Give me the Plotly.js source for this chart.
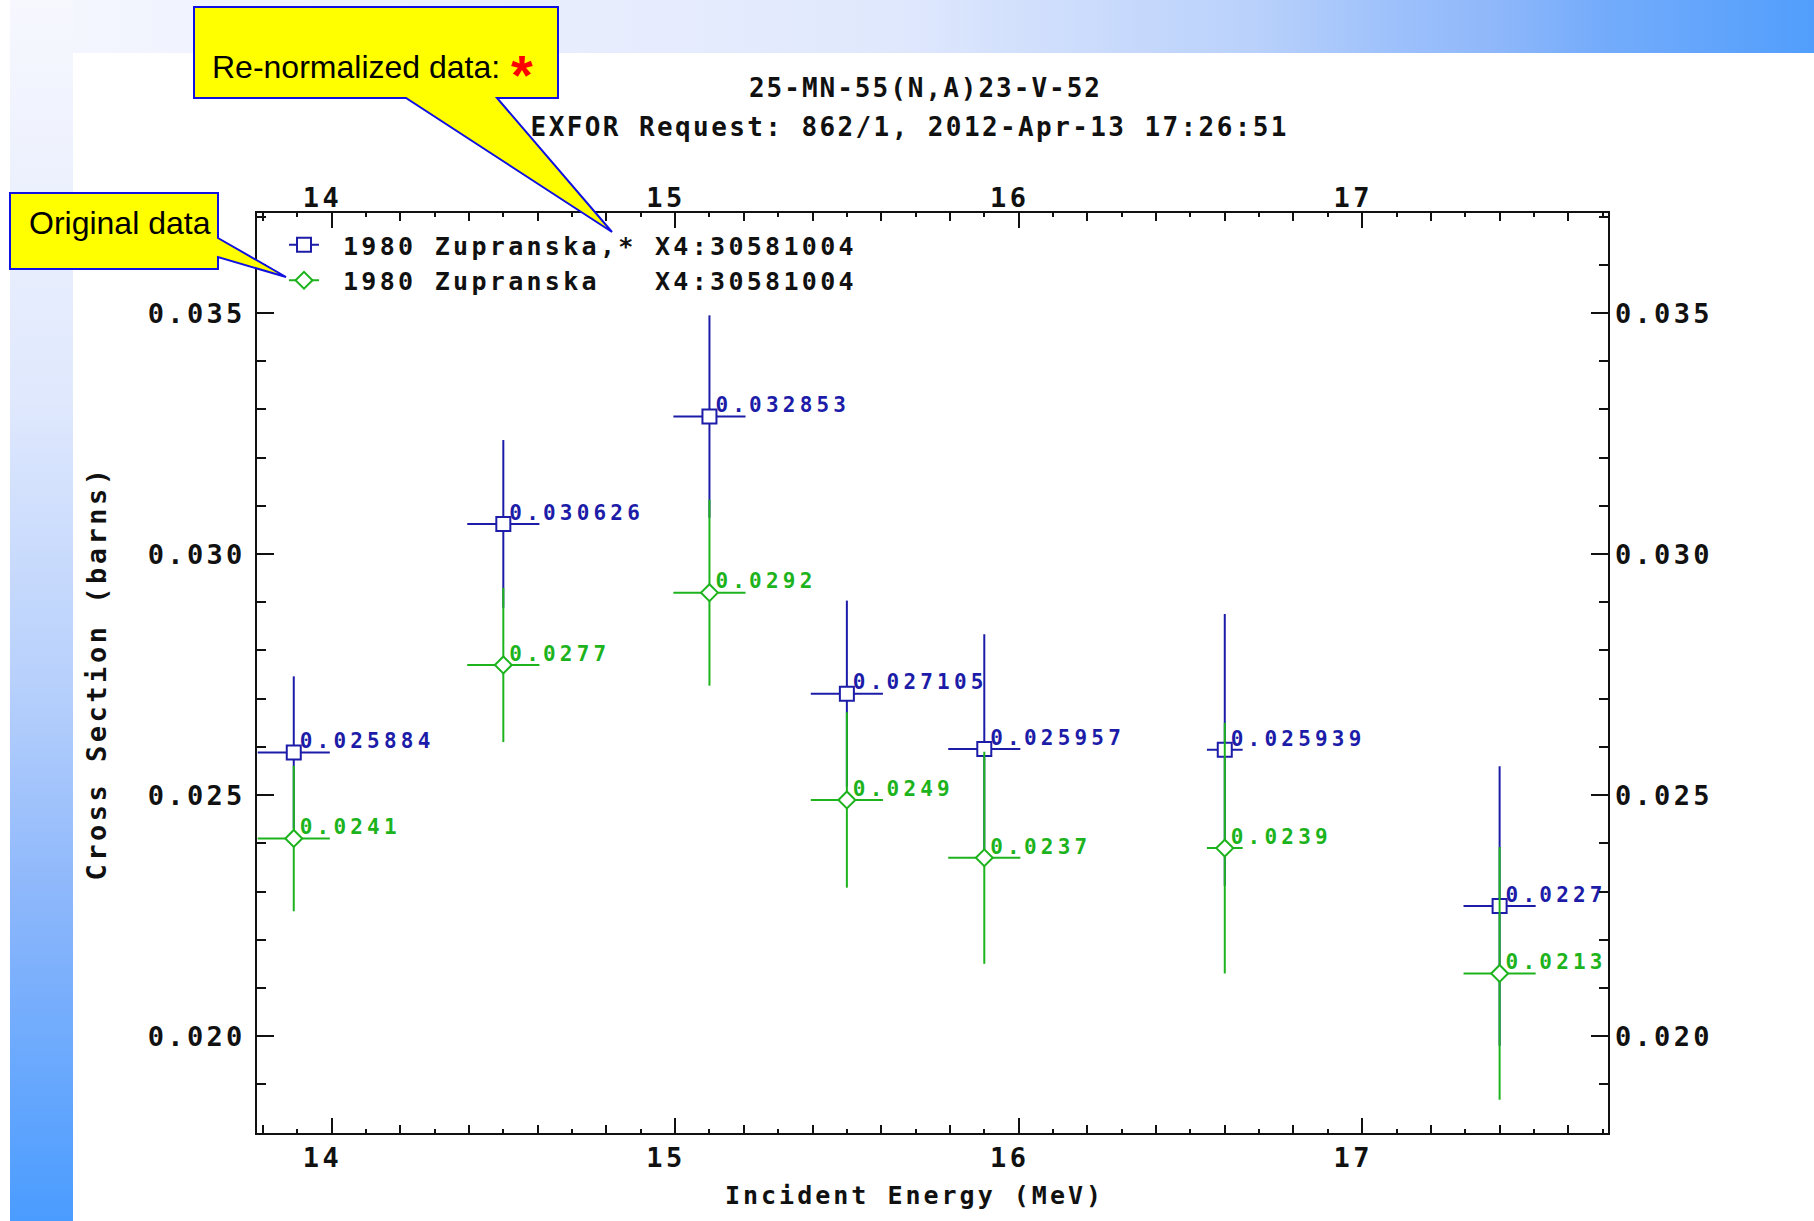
<!DOCTYPE html>
<html>
<head>
<meta charset="utf-8">
<script src="https://cdn.plot.ly/plotly-3.0.1.min.js"></script>
<style>
html,body{margin:0;padding:0;background:#fff;}
#wrap{position:relative;width:1814px;height:1221px;overflow:hidden;background:#fff;}
#topband{position:absolute;left:10px;top:0;width:1804px;height:53px;
  background:linear-gradient(to right,#f5f7fe 0%,#e0e8fd 49%,#b9d1fb 69%,#9cc0fb 77%,#90b8fa 82%,#75acfb 88%,#519efc 100%);}
#leftband{position:absolute;left:10px;top:0;width:63px;height:1221px;
  background:linear-gradient(to bottom,#f7f8fe 0%,#dfe8fd 33%,#b5cffc 57%,#8bb6fb 74%,#4a9cff 100%);}
#chart{position:absolute;left:0;top:0;width:1814px;height:1221px;}
.xtick text,.x2tick text{letter-spacing:3.5px;}
.ytick text,.y2tick text{letter-spacing:3.3px;}
.gtitle{letter-spacing:2px;}
.annotation[data-index="0"] text{letter-spacing:2.4px;}
.legendtext{letter-spacing:3.3px;transform:translateX(19px);}
g.legend g.scrollbox{clip-path:none !important;}
.textpoint text{letter-spacing:4.2px;transform:translate(6px,1px);}
.xtitle{letter-spacing:3px;transform:translateX(-18px);}
.ytitle{letter-spacing:3.5px;}
</style>
</head>
<body>
<div id="wrap">
  <div id="topband"></div>
  <div id="leftband"></div>
  <div id="chart"></div>
</div>
<script>
// ---- data ----
const energy      = [13.89, 14.50, 15.10, 15.50, 15.90, 16.60, 17.40];
const energyErr   = [0.105, 0.105, 0.105, 0.105, 0.105, 0.052, 0.105];
const renormXS    = [0.025884, 0.030626, 0.032853, 0.027105, 0.025957, 0.025939, 0.0227];
const renormErr   = [0.00158, 0.00174, 0.0021, 0.00193, 0.00238, 0.00282, 0.0029];
const origXS      = [0.0241, 0.0277, 0.0292, 0.0249, 0.0237, 0.0239, 0.0213];
const origErr     = [0.00151, 0.0016, 0.00193, 0.00182, 0.0022, 0.0026, 0.00262];
const seriesNames = ['1980 Zupranska,* X4:30581004', '1980 Zupranska\u00a0\u00a0\u00a0X4:30581004'];
const xTickVals   = [14, 15, 16, 17];
const yTickVals   = [0.020, 0.025, 0.030, 0.035];
const titleLines  = ['25-MN-55(N,A)23-V-52', 'EXFOR Request: 862/1, 2012-Apr-13 17:26:51'];
const xTitle = 'Incident Energy (MeV)';
const yTitle = 'Cross Section (barns)';

// ---- styling ----
const BLUE = '#1c1ca8', GREEN = '#1cb31c', INK = '#111111';
const MONO = 'DejaVu Sans Mono', SANS = 'Liberation Sans, Arial, sans-serif';
const XR = [13.783, 17.7155], YR = [0.01799, 0.037076];
const L = 257, R = 1608, T = 213, B = 1133, W = 1814, H = 1221;
const PX = p => (p - L) / (R - L);
const PY = p => (B - p) / (B - T);
const pth = pts => 'M' + pts.map(p => PX(p[0]).toFixed(5) + ',' + PY(p[1]).toFixed(5)).join(' L') + ' Z';

const monoB = (size, color) => ({family: MONO, size: size, color: color || INK, weight: 'bold'});

function dataTrace(y, err, color, symbol, size) {
  return {
    x: energy, y: y, type: 'scatter', mode: 'markers', showlegend: false, hoverinfo: 'skip',
    marker: {symbol: symbol, size: size, color: '#ffffff', line: {color: color, width: 2}},
    error_y: {type: 'data', array: err, visible: true, color: color, thickness: 2, width: 0},
    error_x: {type: 'data', array: energyErr, visible: true, color: color, thickness: 2, width: 0}
  };
}
function labelTrace(y, color) {
  return {
    x: energy, y: y, type: 'scatter', mode: 'text', showlegend: false, hoverinfo: 'skip',
    text: y.map(v => String(v)), textposition: 'top right', cliponaxis: true,
    textfont: monoB(21, color)
  };
}
function legendTrace(name, color, symbol, size) {
  return {
    x: [null], y: [null], type: 'scatter', mode: 'lines+markers', name: name, hoverinfo: 'skip',
    line: {color: color, width: 2},
    marker: {symbol: symbol, size: size, color: '#ffffff', line: {color: color, width: 2}}
  };
}
// empty carriers so that the mirrored label axes / extra tick axis get drawn
function axisCarrier(xa, ya) {
  return {x: [null], y: [null], type: 'scatter', mode: 'markers', xaxis: xa, yaxis: ya,
          showlegend: false, hoverinfo: 'skip'};
}

const traces = [
  dataTrace(renormXS, renormErr, BLUE, 'square', 14),
  dataTrace(origXS, origErr, GREEN, 'diamond', 13),
  labelTrace(renormXS, BLUE),
  labelTrace(origXS, GREEN),
  legendTrace(seriesNames[0], BLUE, 'square', 14),
  legendTrace(seriesNames[1], GREEN, 'diamond', 13),
  axisCarrier('x2', 'y2'),
  axisCarrier('x3', 'y')
];

const tickFont = monoB(27);
const layout = {
  width: W, height: H,
  margin: {l: L, r: W - R, t: T, b: H - B, pad: 0},
  paper_bgcolor: 'rgba(0,0,0,0)', plot_bgcolor: '#ffffff',
  hovermode: false,
  title: {text: titleLines[0], font: monoB(26), x: 925.5 / W, xanchor: 'center', y: 1 - 87.5 / H, yanchor: 'middle'},
  showlegend: true,
  legend: {x: PX(284), y: PY(222), xanchor: 'left', yanchor: 'top', bgcolor: 'rgba(0,0,0,0)',
           borderwidth: 0, font: monoB(25), tracegroupgap: 0, itemwidth: 30},
  xaxis: {
    range: XR, showline: true, linewidth: 2, linecolor: INK, mirror: 'ticks',
    ticks: 'inside', tickvals: xTickVals, ticklen: 15, tickwidth: 2, tickcolor: INK,
    tickfont: tickFont, ticklabelshift: -9, showgrid: false, zeroline: false,
    minor: {dtick: 0.1, tick0: 14, ticks: 'inside', ticklen: 4, tickwidth: 2, tickcolor: INK, showgrid: false},
    title: {text: xTitle, font: monoB(25), standoff: 14}
  },
  xaxis3: {
    overlaying: 'x', anchor: 'y', side: 'bottom', range: XR, showline: false, mirror: 'ticks',
    ticks: 'inside', tick0: 14, dtick: 0.2, ticklen: 8, tickwidth: 2, tickcolor: INK,
    showticklabels: false, showgrid: false, zeroline: false
  },
  xaxis2: {
    overlaying: 'x', anchor: 'y2', side: 'top', range: XR, showline: false, ticks: '',
    tickvals: xTickVals, tickfont: tickFont, ticklabelshift: -9, showgrid: false, zeroline: false
  },
  yaxis: {
    range: YR, showline: true, linewidth: 2, linecolor: INK, mirror: 'ticks',
    ticks: 'inside', tickvals: yTickVals, tickformat: '.3f', ticklen: 17, tickwidth: 2, tickcolor: INK,
    tickfont: tickFont, ticklabelstandoff: 4, showgrid: false, zeroline: false,
    minor: {dtick: 0.001, tick0: 0.02, ticks: 'inside', ticklen: 9, tickwidth: 2, tickcolor: INK, showgrid: false},
    title: {text: yTitle, font: monoB(27), standoff: 33}
  },
  yaxis2: {
    overlaying: 'y', anchor: 'x2', side: 'right', range: YR, showline: false, ticks: '',
    tickvals: yTickVals, tickformat: '.3f', tickfont: tickFont, ticklabelstandoff: 6,
    showgrid: false, zeroline: false
  },
  shapes: [
    {type: 'path', xref: 'paper', yref: 'paper', layer: 'above', fillcolor: '#ffff00',
     line: {color: '#1010e0', width: 2},
     path: pth([[194, 7], [558, 7], [558, 98], [497, 98], [612, 232], [406, 98], [194, 98]])},
    {type: 'path', xref: 'paper', yref: 'paper', layer: 'above', fillcolor: '#ffff00',
     line: {color: '#1010e0', width: 2},
     path: pth([[10, 193], [218, 193], [218, 238], [286, 277], [218, 257], [218, 269], [10, 269]])}
  ],
  annotations: [
    {text: titleLines[1], xref: 'paper', yref: 'paper', x: PX(909), y: PY(127), xanchor: 'center', yanchor: 'middle',
     showarrow: false, font: monoB(26)},
    {text: 'Original data', xref: 'paper', yref: 'paper', x: PX(120), y: PY(223), xanchor: 'center', yanchor: 'middle',
     showarrow: false, font: {family: SANS, size: 32, color: '#000'}},
    {text: 'Re-normalized data:', xref: 'paper', yref: 'paper', x: PX(210), y: PY(67), xanchor: 'left', yanchor: 'middle',
     showarrow: false, font: {family: SANS, size: 32, color: '#000'}},
    {text: '*', xref: 'paper', yref: 'paper', x: PX(522), y: PY(41), xanchor: 'center', yanchor: 'top',
     showarrow: false, font: {family: SANS, size: 56, color: '#ff0000', weight: 'bold'}}
  ]
};

Plotly.newPlot('chart', traces, layout, {displayModeBar: false, staticPlot: true});
</script>
</body>
</html>
